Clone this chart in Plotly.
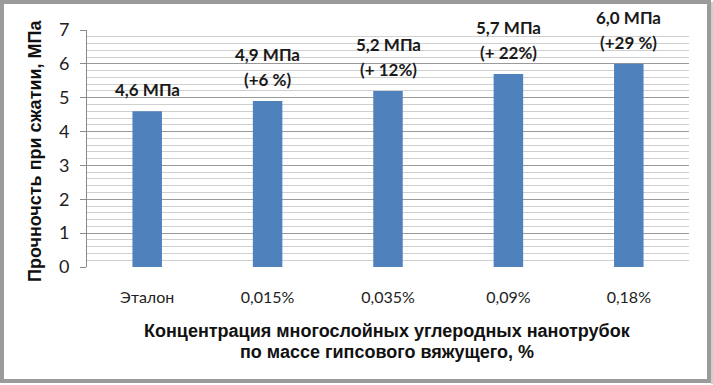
import plotly.graph_objects as go

categories = ["Эталон", "0,015%", "0,035%", "0,09%", "0,18%"]
values = [4.6, 4.9, 5.2, 5.7, 6.0]
value_labels = ["4,6 МПа", "4,9 МПа", "5,2 МПа", "5,7 МПа", "6,0 МПа"]
pct_labels = ["", "(+6 %)", "(+ 12%)", "(+ 22%)", "(+29 %)"]
y_ticks = [0, 1, 2, 3, 4, 5, 6, 7]

W, H = 713, 385
ML, MR, MT, MB = 87, 24, 30, 118
pw, ph = W - ML - MR, H - MT - MB

def px(x):
    return (x - ML) / pw

def py(y):
    return (H - MB - y) / ph

fig = go.Figure()
fig.add_trace(go.Bar(
    x=categories, y=values, width=0.245,
    marker=dict(color="#4F81BD", line=dict(width=0)),
    hoverinfo="skip",
))

lab_font = dict(family="Lato", size=17, color="#1a1a1a")
annotations = []
for c, v, lab, pct in zip(categories, values, value_labels, pct_labels):
    if pct:
        annotations.append(dict(x=c, y=v, text="<b>" + pct + "</b>", showarrow=False,
                                yanchor="bottom", yshift=9, font=lab_font))
        annotations.append(dict(x=c, y=v, text="<b>" + lab + "</b>", showarrow=False,
                                yanchor="bottom", yshift=34, font=lab_font))
    else:
        annotations.append(dict(x=c, y=v, text="<b>" + lab + "</b>", showarrow=False,
                                yanchor="bottom", yshift=9, font=lab_font))

title_font_y = dict(family="Liberation Sans", size=18, color="#111")
title_font_x = dict(family="Liberation Sans", size=18, color="#111")
annotations.append(dict(
    xref="paper", yref="paper", x=px(35), y=py(151), xanchor="center", yanchor="middle",
    text="<b>Прочночсть при сжатии, МПа</b>",
    textangle=-90, showarrow=False, font=title_font_y))
annotations.append(dict(
    xref="paper", yref="paper", x=px(387), y=py(331), xanchor="center", yanchor="middle",
    text="<b>Концентрация многослойных углеродных нанотрубок</b>",
    showarrow=False, font=title_font_x))
annotations.append(dict(
    xref="paper", yref="paper", x=px(387), y=py(352), xanchor="center", yanchor="middle",
    text="<b>по массе гипсового вяжущего, %</b>",
    showarrow=False, font=title_font_x))

fig.update_layout(
    width=W, height=H,
    margin=dict(l=ML, r=MR, t=MT, b=MB),
    paper_bgcolor="white", plot_bgcolor="white",
    showlegend=False,
    annotations=annotations,
    shapes=[dict(type="rect", xref="paper", yref="paper",
                 x0=px(2), x1=px(709), y0=py(2), y1=py(381),
                 line=dict(color="#9b9b9b", width=4), layer="above"),
            dict(type="line", xref="paper", yref="paper",
                 x0=px(712), x1=px(712), y0=py(2), y1=py(384),
                 line=dict(color="#d0d0d0", width=2), layer="above")],
    xaxis=dict(
        showgrid=False, showline=False, ticks="",
        tickfont=dict(family="Lato", size=16, color="#222"),
        ticklabelstandoff=19,
    ),
    yaxis=dict(
        range=[0, 7], tickvals=y_ticks, ticktext=[str(t) for t in y_ticks],
        showgrid=True, gridcolor="#9a9a9a", gridwidth=1.3,
        showline=True, linecolor="#8a8a8a", linewidth=1,
        ticks="outside", ticklen=6, tickcolor="#8a8a8a",
        tickfont=dict(family="Lato", size=18, color="#222"),
        ticklabelstandoff=7,
        minor=dict(dtick=0.2, showgrid=True, gridcolor="#cfcfcf", gridwidth=1),
        zeroline=False,
    ),
)

fig.write_html("out.html", config={"displayModeBar": False},
               post_script="document.body.style.margin='0';document.body.style.overflow='hidden';")
